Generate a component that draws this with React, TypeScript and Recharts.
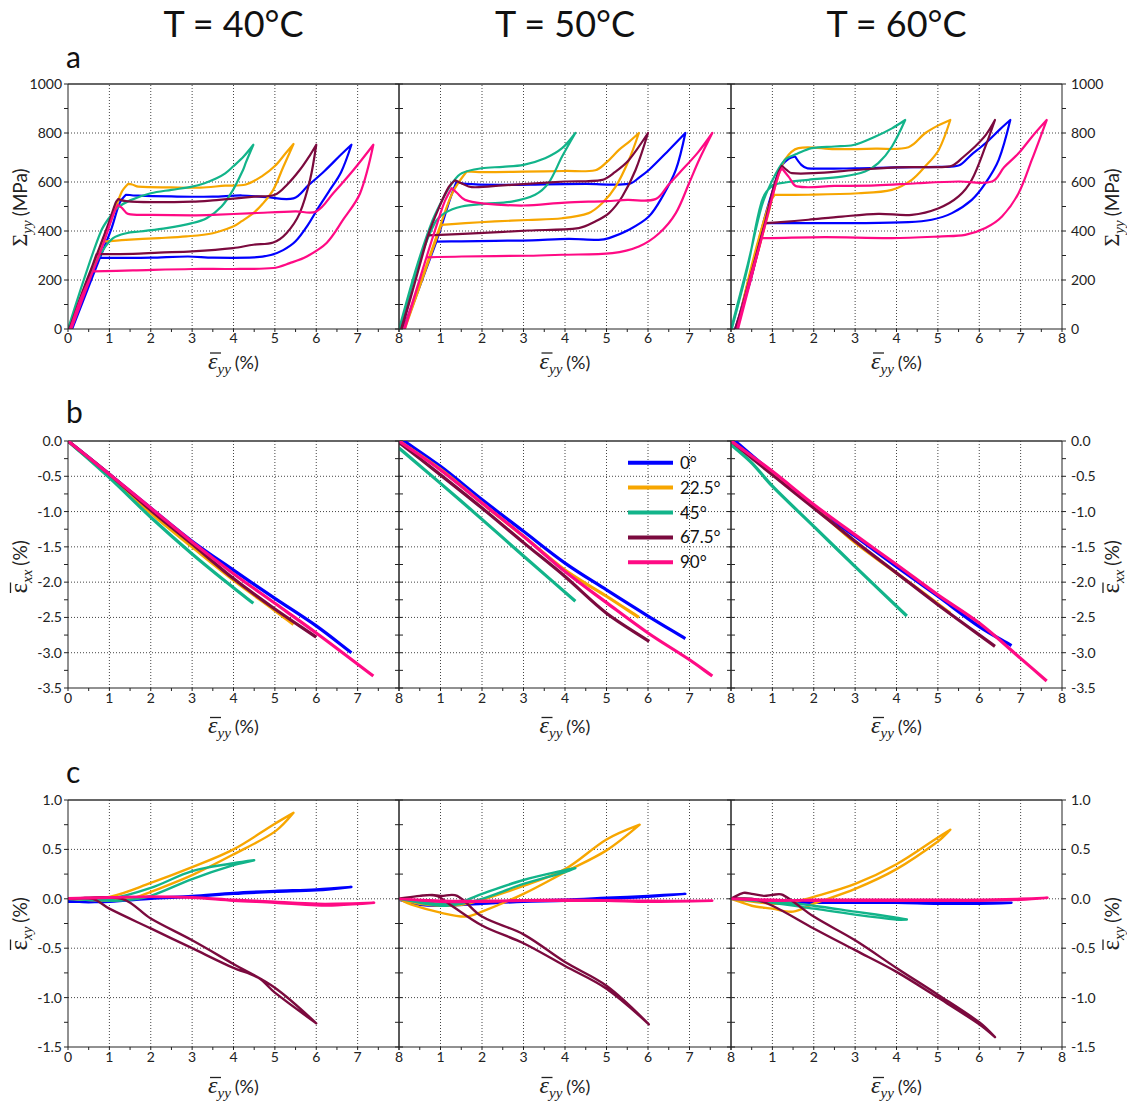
import { LineChart, Line, XAxis, YAxis, ReferenceLine } from "recharts";

type Pt = [number, number];

const angles = ["0°", "22.5°", "45°", "67.5°", "90°"];
const colors = ["#0000ff", "#f7a600", "#12b48a", "#7b0a3e", "#ff0a84"];
const temps = ["T = 40°C", "T = 50°C", "T = 60°C"];

const xTicks = [0, 0.5, 1, 1.5, 2, 2.5, 3, 3.5, 4, 4.5, 5, 5.5, 6, 6.5, 7, 7.5, 8];
const xGrid = [1, 2, 3, 4, 5, 6, 7];
const yTicksA = [0, 100, 200, 300, 400, 500, 600, 700, 800, 900, 1000];
const yGridA = [200, 400, 600, 800];
const yTicksB = [-3.5, -3.25, -3, -2.75, -2.5, -2.25, -2, -1.75, -1.5, -1.25, -1, -0.75, -0.5, -0.25, 0];
const yGridB = [-3, -2.5, -2, -1.5, -1, -0.5];
const yTicksC = [-1.5, -1.25, -1, -0.75, -0.5, -0.25, 0, 0.25, 0.5, 0.75, 1];
const yGridC = [-1, -0.5, 0, 0.5];

// row a: stress Σyy (MPa) vs strain, order = 0°, 22.5°, 45°, 67.5°, 90°
const a40: Pt[][] = [
  [[0.05, 0], [0.4, 145], [0.77, 290], [1.05, 410], [1.25, 515], [1.4, 548], [1.7, 544], [2.5, 541], [3.5, 540], [4.2, 545], [4.8, 538], [5.45, 533], [5.8, 585], [6.2, 645], [6.6, 712], [6.85, 752], [6.6, 640], [6.3, 560], [6.05, 495], [5.8, 425], [5.5, 358], [5.2, 322], [4.9, 302], [4.5, 292], [3.5, 291], [2.9, 296], [2, 291], [1.2, 290], [0.77, 290], [0.1, 0]],
  [[0.02, 0], [0.4, 170], [0.85, 357], [1.1, 470], [1.3, 560], [1.45, 592], [1.55, 590], [1.7, 581], [2.5, 578], [3.2, 577], [3.8, 585], [4.3, 590], [4.7, 625], [5.0, 665], [5.25, 715], [5.45, 755], [5.2, 660], [4.96, 568], [4.7, 510], [4.48, 473], [4.2, 440], [3.99, 418], [3.5, 391], [2.86, 378], [2.2, 371], [1.4, 364], [0.85, 357], [0.05, 0]],
  [[0, 0], [0.4, 210], [0.8, 400], [1.0, 455], [1.2, 495], [1.5, 525], [2.0, 554], [2.5, 568], [3.0, 581], [3.3, 595], [3.59, 615], [3.8, 635], [3.99, 663], [4.25, 705], [4.48, 752], [4.3, 680], [4.23, 649], [3.99, 568], [3.71, 500], [3.35, 452], [3.0, 432], [2.38, 412], [1.73, 398], [1.41, 391], [1.09, 371], [0.85, 323], [0.6, 240], [0.05, 0]],
  [[0.03, 0], [0.4, 175], [0.7, 306], [1.0, 440], [1.15, 515], [1.21, 530], [1.4, 522], [2.0, 518], [3.0, 520], [3.5, 525], [4.0, 532], [4.5, 540], [5.0, 548], [5.3, 590], [5.6, 649], [5.85, 710], [6.0, 752], [5.85, 609], [5.6, 473], [5.28, 391], [4.96, 353], [4.48, 344], [3.99, 330], [3.0, 317], [2.2, 312], [1.57, 307], [0.69, 306], [0.05, 0]],
  [[0.05, 0], [0.3, 120], [0.6, 235], [0.9, 370], [1.1, 470], [1.21, 507], [1.3, 495], [1.45, 470], [2.0, 466], [3.0, 464], [3.5, 466], [4.5, 473], [5.5, 480], [6.0, 480], [6.41, 554], [6.9, 649], [7.38, 752], [7.06, 554], [6.65, 446], [6.25, 351], [5.77, 296], [5.36, 269], [4.96, 249], [3.99, 245], [3.0, 245], [1.57, 239], [0.6, 235], [0.08, 0]],
];
const a50: Pt[][] = [
  [[0.1, 0], [0.5, 180], [0.9, 357], [1.25, 540], [1.39, 602], [1.6, 592], [2.5, 588], [3.5, 590], [4.5, 592], [5.54, 592], [5.8, 620], [6.02, 649], [6.5, 730], [6.9, 800], [6.67, 649], [6.35, 541], [6.02, 459], [5.54, 405], [5.06, 371], [4.81, 364], [4.09, 368], [3.2, 362], [2.31, 360], [1.5, 358], [0.9, 357], [0.12, 0]],
  [[0.12, 0], [0.6, 230], [1.0, 425], [1.3, 560], [1.63, 643], [2.0, 640], [3.0, 642], [4.0, 645], [4.73, 648], [5.0, 680], [5.3, 731], [5.55, 765], [5.78, 800], [5.54, 690], [5.22, 581], [4.9, 514], [4.57, 473], [3.93, 452], [3.1, 445], [2.31, 439], [1.6, 432], [1.02, 425], [0.14, 0]],
  [[0, 0], [0.4, 240], [0.8, 440], [1.1, 545], [1.3, 600], [1.51, 636], [1.99, 656], [2.5, 662], [3.0, 670], [3.52, 697], [3.93, 738], [4.25, 800], [3.93, 704], [3.6, 595], [3.28, 548], [2.72, 520], [2.07, 511], [1.51, 500], [1.1, 473], [0.86, 432], [0.5, 280], [0.02, 0]],
  [[0.05, 0], [0.4, 200], [0.7, 382], [1.0, 510], [1.2, 580], [1.35, 607], [1.5, 595], [1.75, 579], [2.5, 586], [3.3, 595], [4.0, 602], [4.9, 609], [5.2, 640], [5.54, 690], [6.0, 800], [5.7, 649], [5.38, 541], [5.06, 473], [4.73, 439], [4.33, 412], [3.12, 402], [1.91, 391], [0.7, 382], [0.07, 0]],
  [[0.12, 0], [0.4, 150], [0.66, 292], [0.9, 420], [1.1, 520], [1.27, 575], [1.4, 555], [1.59, 527], [2.0, 513], [3.0, 504], [4.0, 516], [5.0, 522], [5.5, 527], [6.18, 530], [6.5, 590], [6.75, 636], [7.2, 720], [7.55, 800], [7.23, 690], [6.99, 595], [6.67, 473], [6.27, 391], [5.78, 337], [5.14, 310], [3.93, 303], [3.12, 299], [1.51, 296], [0.66, 292], [0.14, 0]],
];
const a60: Pt[][] = [
  [[0.1, 0], [0.5, 215], [0.78, 432], [1.0, 560], [1.2, 660], [1.4, 695], [1.55, 704], [1.7, 670], [1.85, 656], [3.0, 656], [4.0, 660], [5.0, 662], [5.5, 667], [5.8, 710], [6.15, 758], [6.5, 815], [6.75, 853], [6.47, 690], [6.15, 595], [5.82, 527], [5.34, 473], [4.85, 446], [4.29, 436], [3.08, 432], [1.87, 432], [1.06, 432], [0.78, 432], [0.12, 0]],
  [[0.12, 0], [0.5, 220], [0.9, 470], [1.1, 600], [1.3, 690], [1.63, 738], [2.5, 734], [3.5, 736], [4.29, 742], [4.69, 799], [5.0, 830], [5.3, 853], [5.02, 731], [4.69, 663], [4.37, 609], [3.89, 568], [3.08, 554], [1.87, 548], [1.06, 548], [0.9, 500], [0.5, 260], [0.14, 0]],
  [[0, 0], [0.4, 260], [0.74, 500], [0.98, 600], [1.3, 690], [1.6, 715], [1.95, 738], [2.5, 745], [2.96, 751], [3.48, 785], [3.89, 819], [4.21, 853], [3.89, 745], [3.56, 677], [3.24, 643], [2.68, 622], [1.87, 609], [1.31, 598], [0.98, 582], [0.74, 520], [0.4, 250], [0.02, 0]],
  [[0.1, 0], [0.5, 220], [0.82, 432], [1.0, 560], [1.15, 640], [1.23, 666], [1.35, 648], [1.47, 636], [2.0, 636], [3.0, 649], [4.0, 660], [5.0, 661], [5.34, 666], [5.6, 700], [5.9, 745], [6.15, 790], [6.38, 853], [6.15, 745], [5.82, 609], [5.5, 541], [5.02, 493], [4.37, 466], [3.56, 470], [2.68, 459], [1.87, 446], [1.2, 436], [0.82, 432], [0.12, 0]],
  [[0.15, 0], [0.45, 200], [0.74, 371], [1.0, 540], [1.15, 630], [1.23, 656], [1.4, 620], [1.59, 582], [2.5, 584], [3.5, 586], [4.5, 595], [5.5, 602], [6.31, 602], [6.6, 660], [6.95, 717], [7.3, 790], [7.63, 853], [7.27, 690], [6.95, 554], [6.55, 459], [6.15, 412], [5.66, 384], [5.1, 378], [3.89, 371], [2.27, 375], [0.98, 371], [0.74, 371], [0.17, 0]],
];

// row b: transverse strain εxx (%)
const b40: Pt[][] = [
  [[0, 0], [1, -0.47], [2, -0.95], [3, -1.42], [4, -1.83], [5, -2.23], [6, -2.62], [6.85, -3.0]],
  [[0, 0], [1, -0.5], [2, -1.02], [3, -1.5], [4, -1.97], [5, -2.4], [5.45, -2.6]],
  [[0, 0], [1, -0.52], [2, -1.08], [3, -1.6], [4, -2.08], [4.48, -2.3]],
  [[0, 0], [1, -0.47], [2, -0.98], [3, -1.46], [4, -1.95], [5, -2.38], [6, -2.78]],
  [[0, 0], [1, -0.47], [2, -0.95], [3, -1.43], [4, -1.88], [5, -2.3], [6, -2.72], [7.38, -3.33]],
];
const b50: Pt[][] = [
  [[0, 0.05], [1, -0.36], [2, -0.83], [3, -1.28], [4, -1.73], [5, -2.11], [6, -2.48], [6.9, -2.8]],
  [[0, 0], [1, -0.4], [2, -0.88], [3, -1.35], [4, -1.83], [5, -2.2], [5.78, -2.5]],
  [[0, -0.1], [1, -0.6], [2, -1.11], [3, -1.63], [4.25, -2.27]],
  [[0, -0.02], [1, -0.48], [2, -0.95], [3, -1.44], [4, -1.92], [5, -2.44], [6.03, -2.84]],
  [[0, 0], [1, -0.41], [2, -0.88], [3, -1.35], [4, -1.85], [5, -2.29], [6, -2.72], [7, -3.1], [7.55, -3.33]],
];
const b60: Pt[][] = [
  [[0, 0.05], [1, -0.45], [2, -0.93], [3, -1.35], [4, -1.78], [5, -2.2], [6, -2.63], [6.78, -2.9]],
  [[0, 0], [1, -0.45], [2, -0.93], [3, -1.44], [4, -1.87], [5.3, -2.44]],
  [[0, -0.05], [0.5, -0.31], [1, -0.64], [2, -1.21], [3, -1.78], [4.25, -2.48]],
  [[0, 0], [1, -0.48], [2, -0.95], [3, -1.42], [4, -1.87], [5, -2.32], [6.38, -2.91]],
  [[0, 0], [1, -0.43], [2, -0.9], [3, -1.33], [4, -1.75], [5, -2.18], [6, -2.58], [7, -3.08], [7.63, -3.4]],
];

// row c: shear strain εxy (%)
const c40: Pt[][] = [
  [[0, -0.02], [0.5, -0.035], [1, -0.02], [2, 0.01], [3, 0.03], [4, 0.06], [5, 0.08], [6, 0.095], [6.85, 0.12], [6, 0.085], [5, 0.07], [4, 0.05], [3, 0.02], [2, 0.0], [1, -0.03], [0, -0.03]],
  [[0, 0], [1, 0.02], [2, 0.16], [3, 0.32], [4, 0.5], [5, 0.76], [5.45, 0.87], [5, 0.68], [4, 0.45], [3, 0.24], [2, 0.07], [1.6, 0.01], [1, -0.02], [0, 0]],
  [[0, 0], [1, 0.0], [2, 0.11], [3, 0.28], [4, 0.36], [4.5, 0.39], [4, 0.34], [3, 0.2], [2, 0.03], [1.5, -0.01], [1, -0.02], [0, 0]],
  [[0, 0], [0.6, 0], [1, -0.1], [2, -0.3], [3, -0.5], [4, -0.7], [4.6, -0.8], [5, -0.95], [6, -1.26], [5, -0.9], [4, -0.66], [3, -0.42], [2, -0.2], [1.3, 0], [0, 0]],
  [[0, 0], [1, 0.01], [2, 0.02], [3, 0.01], [4, -0.02], [5, -0.04], [6, -0.065], [6.5, -0.065], [7.4, -0.04], [6.5, -0.05], [6, -0.05], [5, -0.03], [4, -0.01], [3, 0.015], [2, 0.025], [1, 0.015], [0, 0.005]],
];
const c50: Pt[][] = [
  [[0, 0], [0.5, -0.05], [1, -0.06], [2, -0.04], [3, -0.02], [4, -0.01], [5, 0.01], [6, 0.03], [6.9, 0.05], [6, 0.02], [5, 0.0], [4, -0.02], [3, -0.03], [2, -0.05], [1, -0.07], [0.5, -0.06], [0, -0.01]],
  [[0, 0], [0.3, -0.06], [1, -0.14], [1.6, -0.18], [2, -0.13], [3, 0.05], [4, 0.27], [5, 0.49], [5.8, 0.75], [5, 0.6], [4, 0.3], [3, 0.13], [2, -0.01], [1.5, -0.06], [1, -0.07], [0.5, -0.05], [0, 0]],
  [[0, 0], [1, -0.05], [1.5, -0.03], [2, 0.05], [3, 0.19], [4, 0.29], [4.25, 0.31], [4, 0.27], [3, 0.15], [2, 0.0], [1.5, -0.05], [1, -0.07], [0, 0]],
  [[0, 0], [0.5, 0.03], [0.8, 0.04], [1, 0.03], [1.4, 0.03], [2, -0.18], [3, -0.36], [4, -0.64], [5, -0.88], [6.02, -1.27], [5, -0.91], [4, -0.68], [3, -0.45], [2, -0.27], [1.2, -0.05], [0.9, 0.03], [0.5, 0.03], [0, 0]],
  [[0, 0], [1, -0.03], [2, -0.03], [3, -0.02], [4, -0.02], [5, -0.02], [6, -0.03], [7.55, -0.02], [6, -0.02], [4, -0.01], [2, -0.02], [1, -0.02], [0, 0]],
];
const c60: Pt[][] = [
  [[0, 0], [1, -0.03], [2, -0.04], [3, -0.04], [4, -0.04], [5, -0.05], [6, -0.05], [6.78, -0.04], [6, -0.04], [5, -0.04], [4, -0.03], [3, -0.03], [2, -0.03], [1, -0.02], [0, 0]],
  [[0, 0], [0.5, -0.07], [1, -0.1], [1.5, -0.13], [2, -0.05], [3, 0.1], [4, 0.3], [5, 0.58], [5.3, 0.7], [5, 0.62], [4, 0.35], [3, 0.15], [2, 0.02], [1.5, -0.03], [1, -0.05], [0, 0]],
  [[0, 0], [1, -0.02], [2, -0.07], [3, -0.13], [4, -0.19], [4.25, -0.21], [4, -0.21], [3, -0.16], [2, -0.1], [1, -0.04], [0, 0]],
  [[0, 0], [0.3, 0.06], [0.5, 0.05], [0.8, 0.03], [1, 0.04], [1.25, 0.04], [2, -0.18], [3, -0.42], [4, -0.7], [5, -0.97], [6, -1.25], [6.38, -1.4], [6, -1.27], [5, -1.0], [4, -0.74], [3, -0.52], [2, -0.3], [1, -0.07], [0.5, 0.0], [0, 0]],
  [[0, 0], [1, -0.02], [2, -0.01], [3, -0.01], [4, -0.01], [5, -0.01], [6, -0.01], [7, 0.0], [7.65, 0.01], [7, -0.01], [6, -0.02], [4, -0.02], [2, -0.02], [1, -0.01], [0, 0]],
];

const panels = [
  [a40, a50, a60],
  [b40, b50, b60],
  [c40, c50, c60],
];

const cols = [
  { left: 68, width: 331 },
  { left: 399, width: 332 },
  { left: 731, width: 331 },
];

const rows = [
  { top: 84, height: 245, domain: [0, 1000], ticks: yTicksA, grid: yGridA, major: (v: number) => v % 200 === 0, fmt: (v: number) => String(v), lw: 2.2, xMargin: 1 },
  { top: 441, height: 247, domain: [-3.5, 0], ticks: yTicksB, grid: yGridB, major: (v: number) => Number.isInteger(v * 2), fmt: (v: number) => v.toFixed(1), lw: 3.2, xMargin: 2 },
  { top: 800, height: 247, domain: [-1.5, 1], ticks: yTicksC, grid: yGridC, major: (v: number) => Number.isInteger(v * 2), fmt: (v: number) => v.toFixed(1), lw: 2.4, xMargin: 2 },
];

const FONT = "Lato, 'Open Sans', sans-serif";
const INK = "#222";
const tickStyle = { fontSize: 14, fontFamily: FONT, fill: INK };

// smooth path through the points, keeping sharp corners where the curve turns hard
function smoothCurve(ctx: any) {
  let p: number[][] = [];
  return {
    areaStart() {},
    areaEnd() {},
    lineStart() {
      p = [];
    },
    point(x: number, y: number) {
      p.push([+x, +y]);
    },
    lineEnd() {
      const n = p.length;
      if (n === 0) return;
      ctx.moveTo(p[0][0], p[0][1]);
      if (n === 1) return;
      const dirs = p.map((q, i) => {
        const a = p[Math.max(i - 1, 0)];
        const b = p[Math.min(i + 1, n - 1)];
        if (i > 0 && i < n - 1) {
          const ax = q[0] - a[0], ay = q[1] - a[1];
          const bx = b[0] - q[0], by = b[1] - q[1];
          const la = Math.hypot(ax, ay), lb = Math.hypot(bx, by);
          if (la > 0 && lb > 0 && (ax * bx + ay * by) / (la * lb) < 0.55) return [0, 0];
        }
        const dx = b[0] - a[0], dy = b[1] - a[1];
        const len = Math.hypot(dx, dy) || 1;
        return [dx / len, dy / len];
      });
      for (let i = 0; i < n - 1; i++) {
        const a = p[i], b = p[i + 1];
        const d = Math.hypot(b[0] - a[0], b[1] - a[1]) * 0.33;
        ctx.bezierCurveTo(
          a[0] + dirs[i][0] * d,
          a[1] + dirs[i][1] * d,
          b[0] - dirs[i + 1][0] * d,
          b[1] - dirs[i + 1][1] * d,
          b[0],
          b[1]
        );
      }
    },
  };
}

function Panel({ ri, ci }: { ri: number; ci: number }) {
  const r = rows[ri];
  const c = cols[ci];
  const series = panels[ri][ci];
  const L = ci === 0 ? 68 : 8;
  const R = ci === 2 ? 66 : 8;
  const T = 12;
  const B = 30;
  const yLabel = (show: boolean) => (v: number) => (show && r.major(v) ? r.fmt(v) : "");
  return (
    <div style={{ position: "absolute", left: c.left - L, top: r.top - T }}>
      <LineChart
        width={c.width + L + R}
        height={r.height + T + B}
        margin={{ top: T, right: 0, bottom: 0, left: 0 }}
      >
        <XAxis
          type="number"
          dataKey="x"
          domain={[0, 8]}
          ticks={xTicks}
          interval={0}
          allowDataOverflow
          height={B}
          tickSize={3}
          tickMargin={r.xMargin}
          stroke={INK}
          tick={tickStyle}
          tickFormatter={(v: number) =>
            Number.isInteger(v) && !(ci > 0 && v === 0) ? String(v) : ""
          }
        />
        <YAxis
          yAxisId="L"
          orientation="left"
          type="number"
          domain={r.domain}
          ticks={r.ticks}
          interval={0}
          allowDataOverflow
          width={L}
          tickSize={4}
          tickMargin={2}
          stroke={INK}
          tick={tickStyle}
          tickFormatter={yLabel(ci === 0)}
        />
        <YAxis
          yAxisId="R"
          orientation="right"
          type="number"
          domain={r.domain}
          ticks={r.ticks}
          interval={0}
          allowDataOverflow
          width={R}
          tickSize={4}
          tickMargin={5}
          stroke={INK}
          tick={tickStyle}
          tickFormatter={yLabel(ci === 2)}
        />
        {xGrid.map((v) => (
          <ReferenceLine key={"x" + v} x={v} yAxisId="L" stroke="#444" strokeDasharray="1 2" />
        ))}
        {r.grid.map((v) => (
          <ReferenceLine key={"y" + v} y={v} yAxisId="L" stroke="#444" strokeDasharray="1 2" />
        ))}
        <ReferenceLine y={r.domain[1]} yAxisId="L" stroke="#333" strokeWidth={1.6} />
        {series.map((pts, i) => (
          <Line
            key={angles[i]}
            yAxisId="L"
            type={smoothCurve as any}
            data={pts.map(([x, y]) => ({ x, y }))}
            dataKey="y"
            stroke={colors[i]}
            strokeWidth={r.lw}
            strokeLinejoin="round"
            dot={false}
            activeDot={false}
            isAnimationActive={false}
          />
        ))}
      </LineChart>
    </div>
  );
}

const serif = "'Liberation Serif', 'DejaVu Serif', serif";

function XLabel({ cx, base }: { cx: number; base: number }) {
  const x0 = cx - 25.5;
  return (
    <g>
      <text x={x0} y={base} fill={INK}>
        <tspan fontFamily={serif} fontStyle="italic" fontSize={24}>ε</tspan>
        <tspan fontFamily={serif} fontStyle="italic" fontSize={15} dy={5}>yy</tspan>
        <tspan fontFamily={FONT} fontSize={18} dx={4} dy={-5}>(%)</tspan>
      </text>
      <line x1={x0 + 2} x2={x0 + 13} y1={base - 15.5} y2={base - 15.5} stroke={INK} strokeWidth={1.3} />
    </g>
  );
}

function YLabel({ bx, cy, main, sub, unit, bar, w }: { bx: number; cy: number; main: string; sub: string; unit: string; bar: boolean; w: number }) {
  const x0 = -w / 2;
  return (
    <g transform={`translate(${bx} ${cy}) rotate(-90)`}>
      <text x={x0} y={0} fill={INK}>
        <tspan fontFamily={serif} fontSize={bar ? 25 : 22}>{main}</tspan>
        <tspan fontFamily={serif} fontStyle="italic" fontSize={15} dy={5}>{sub}</tspan>
        <tspan fontFamily={FONT} fontSize={19} dx={4} dy={-5}>{unit}</tspan>
      </text>
      {bar && <line x1={x0 + 0.5} x2={x0 + 11} y1={-16} y2={-16} stroke={INK} strokeWidth={1.3} />}
    </g>
  );
}

const yLabels = [
  { cy: 206.5, main: "Σ", sub: "yy", unit: "(MPa)", bar: false, w: 80 },
  { cy: 566, main: "ε", sub: "xx", unit: "(%)", bar: true, w: 55 },
  { cy: 923, main: "ε", sub: "xy", unit: "(%)", bar: true, w: 55 },
];
const xLabelBase = [368.5, 733, 1093];
const letters = [
  { t: "a", y: 68 },
  { t: "b", y: 423 },
  { t: "c", y: 783 },
];

function Overlay() {
  return (
    <svg width={1127} height={1106} style={{ position: "absolute", left: 0, top: 0, pointerEvents: "none" }}>
      {temps.map((t, i) => (
        <text key={t} x={cols[i].left + cols[i].width / 2} y={36.5} textAnchor="middle" fontFamily={FONT} fontSize={36} fill="#111">
          {t}
        </text>
      ))}
      {letters.map((l) => (
        <text key={l.t} x={66} y={l.y} fontFamily={FONT} fontSize={30} fill="#111">
          {l.t}
        </text>
      ))}
      {xLabelBase.map((b, ri) =>
        cols.map((c, ci) => <XLabel key={ri + "-" + ci} cx={c.left + c.width / 2} base={b} />)
      )}
      {yLabels.map((l, i) => (
        <g key={i}>
          <YLabel bx={26.5} {...l} />
          <YLabel bx={1119} {...l} />
        </g>
      ))}
      {angles.map((a, i) => (
        <g key={a}>
          <line x1={628} x2={673} y1={462.7 + i * 24.9} y2={462.7 + i * 24.9} stroke={colors[i]} strokeWidth={4} />
          <text x={680} y={462.7 + i * 24.9 + 6} fontFamily={FONT} fontSize={17} fill="#111">
            {a}
          </text>
        </g>
      ))}
    </svg>
  );
}

export default function App() {
  return (
    <div style={{ position: "absolute", left: 0, top: 0, width: 1127, height: 1106, overflow: "hidden", background: "#fff" }}>
      {rows.map((_, ri) => cols.map((_, ci) => <Panel key={ri + "-" + ci} ri={ri} ci={ci} />))}
      <Overlay />
    </div>
  );
}
